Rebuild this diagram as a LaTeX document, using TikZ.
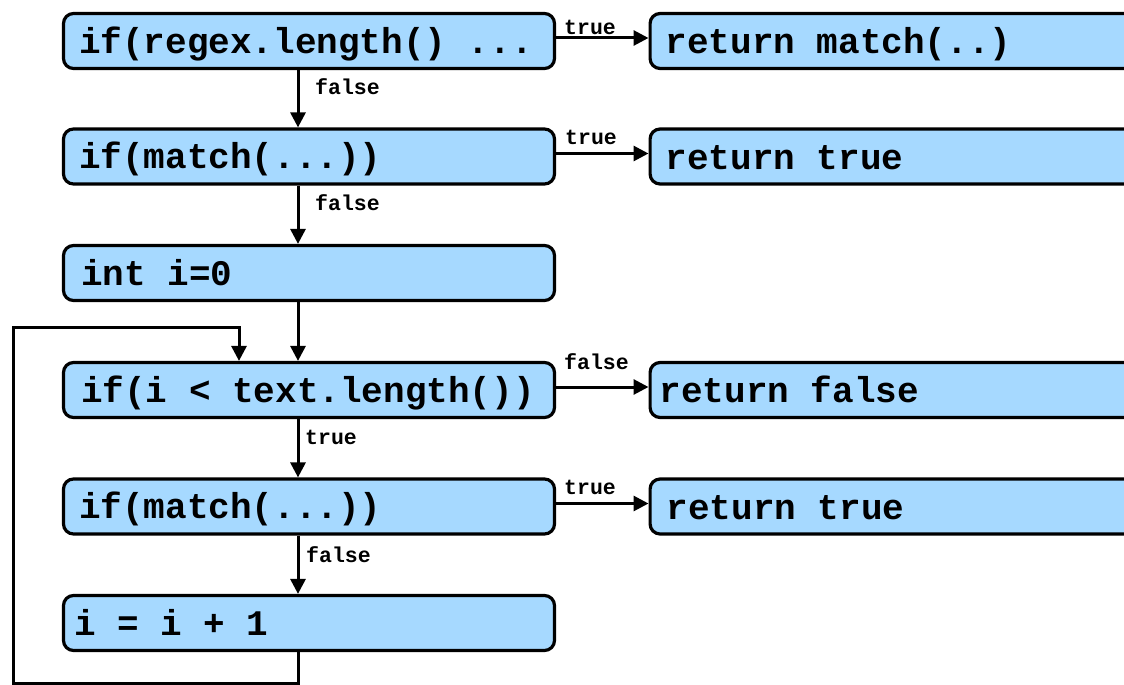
\documentclass[tikz,border=0pt]{standalone}
\usepackage{fontspec}
\setmonofont{Liberation Mono}
\usetikzlibrary{arrows.meta}
\definecolor{boxblue}{RGB}{166,217,255}
\begin{document}
\begin{tikzpicture}[x=1pt,y=-1pt,
  box/.style={draw=black, line width=3.2pt, rounded corners=10pt, fill=boxblue,
              minimum height=55pt, inner sep=0pt},
  lbox/.style={box, minimum width=491pt},
  rbox/.style={box, minimum width=560pt, anchor=west},
  code/.style={font=\ttfamily\bfseries\fontsize{36}{40}\selectfont,
               inner sep=0pt, anchor=base west},
  tag/.style={font=\ttfamily\bfseries\fontsize{21.5}{24}\selectfont,
              inner sep=0pt, anchor=base west},
  arr/.style={line width=3pt, -{Triangle[length=15pt,width=15pt]}}]
\useasboundingbox (0,0) rectangle (1124,685);

% left column: the statements
\node[lbox] (b1) at (309,41)    {};
\node[lbox] (b2) at (309,156.5) {};
\node[lbox] (b3) at (309,273)   {};
\node[lbox] (b4) at (309,390)   {};
\node[lbox] (b5) at (309,506.5) {};
\node[lbox] (b6) at (309,623)   {};

% right column: the returns
\node[rbox] (r1) at (648.5,41)    {};
\node[rbox] (r2) at (648.5,156.5) {};
\node[rbox] (r4) at (648.5,390)   {};
\node[rbox] (r5) at (648.5,506.5) {};

% code texts
\node[code] (t1) at ([xshift=17pt,yshift=-12pt]b1.west) {if(regex.length() ...};
\node[code] (t2) at ([xshift=17pt,yshift=-12pt]b2.west) {if(match(...))};
\node[code] (t3) at ([xshift=19pt,yshift=-12pt]b3.west) {int i=0};
\node[code] (t4) at ([xshift=19pt,yshift=-12pt]b4.west) {if(i < text.length())};
\node[code] (t5) at ([xshift=17pt,yshift=-12pt]b5.west) {if(match(...))};
\node[code] (t6) at ([xshift=12pt,yshift=-12pt]b6.west) {i = i + 1};
\node[code] (s1) at ([xshift=17pt,yshift=-12pt]r1.west) {return match(..)};
\node[code] (s2) at ([xshift=17pt,yshift=-13pt]r2.west) {return true};
\node[code] (s4) at ([xshift=11pt,yshift=-12pt]r4.west) {return false};
\node[code] (s5) at ([xshift=18pt,yshift=-13pt]r5.west) {return true};

% branch connectors
\coordinate (colx) at (298,0);
\draw[arr] ([yshift=3pt]b1.east) -- ([yshift=3pt]r1.west);
\draw[arr] ([yshift=3pt]b2.east) -- ([yshift=3pt]r2.west);
\draw[arr] ([yshift=3pt]b4.east) -- ([yshift=3pt]r4.west);
\draw[arr] ([yshift=3pt]b5.east) -- ([yshift=3pt]r5.west);
\draw[arr] (b1.south -| colx) -- (b2.north -| colx);
\draw[arr] (b2.south -| colx) -- (b3.north -| colx);
\draw[arr] (b3.south -| colx) -- (b4.north -| colx);
\draw[arr] (b4.south -| colx) -- (b5.north -| colx);
\draw[arr] (b5.south -| colx) -- (b6.north -| colx);

% loop back from the increment to the loop test
\coordinate (lbot) at (13,683);
\coordinate (ltop) at (239,327);
\draw[arr] (b6.south -| colx) |- (lbot) |- (ltop) -- (b4.north -| ltop);

% branch labels
\node[tag] (l1) at (564,35)  {true};
\node[tag] (l2) at (565,144) {true};
\node[tag] (l4) at (564,369) {false};
\node[tag] (l5) at (564,494) {true};
\node[tag] (v1) at (315,94)  {false};
\node[tag] (v2) at (315,210) {false};
\node[tag] (v4) at (305,444) {true};
\node[tag] (v5) at (306,562) {false};
\end{tikzpicture}
\end{document}
